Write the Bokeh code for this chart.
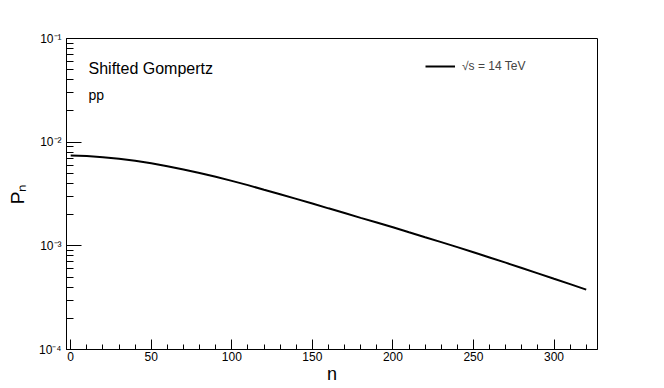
from bokeh.plotting import figure
from bokeh.models import (Range1d, FixedTicker, SingleIntervalTicker, Label,
                          Legend, LegendItem, ColumnDataSource)
from bokeh.embed import file_html
from bokeh.resources import INLINE

# ---- data ----
n_values = [0, 10, 20, 30, 40, 50, 60, 70, 80, 90, 100, 110, 120, 130, 140, 150, 160,
            170, 180, 190, 200, 210, 220, 230, 240, 250, 260, 270, 280, 290, 300, 310, 320]
pn_values = [7.44e-3, 7.34e-3, 7.17e-3, 6.93e-3, 6.62e-3, 6.26e-3, 5.87e-3, 5.46e-3,
             5.05e-3, 4.63e-3, 4.23e-3, 3.85e-3, 3.48e-3, 3.15e-3, 2.84e-3, 2.56e-3,
             2.30e-3, 2.07e-3, 1.86e-3, 1.68e-3, 1.51e-3, 1.35e-3, 1.21e-3, 1.085e-3,
             9.71e-4, 8.67e-4, 7.73e-4, 6.88e-4, 6.11e-4, 5.43e-4, 4.81e-4, 4.27e-4, 3.78e-4]
series_label = "\u221as = 14 TeV"
y_ticks = [1e-4, 1e-3, 1e-2, 1e-1]
y_tick_labels = ["10\u207b\u2074", "10\u207b\u00b3", "10\u207b\u00b2", "10\u207b\u00b9"]
x_range = (-2.6, 327)
y_range = (1e-4, 1e-1)

FONT = "Liberation Sans"

p = figure(width=664, height=388, output_backend="svg", toolbar_location=None,
           y_axis_type="log",
           x_range=Range1d(*x_range), y_range=Range1d(*y_range),
           frame_width=531, frame_height=311,
           min_border_left=66, min_border_right=67, min_border_top=38, min_border_bottom=39)
p.background_fill_color = "white"
p.border_fill_color = "white"
p.outline_line_color = "black"
p.outline_line_width = 1
p.xgrid.visible = False
p.ygrid.visible = False

src = ColumnDataSource(dict(n=n_values, pn=pn_values))
r = p.line("n", "pn", source=src, line_color="black", line_width=2)

# x axis
xa = p.xaxis[0]
xa.ticker = SingleIntervalTicker(interval=50, num_minor_ticks=5)
xa.major_tick_in = 10
xa.major_tick_out = 0
xa.minor_tick_in = 5
xa.minor_tick_out = 0
xa.axis_line_color = "black"
xa.major_tick_line_color = "black"
xa.minor_tick_line_color = "black"
xa.major_label_text_font = FONT
xa.major_label_text_font_size = "12px"
xa.major_label_text_color = "black"
xa.major_label_standoff = 2
xa.axis_label = "n"
xa.axis_label_text_font = FONT
xa.axis_label_text_font_style = "normal"
xa.axis_label_text_font_size = "18px"
xa.axis_label_text_color = "black"
xa.axis_label_standoff = 0

# y axis
minor = []
for t in y_ticks[:-1]:
    for m in range(2, 10):
        minor.append(t * m)
ya = p.yaxis[0]
ya.ticker = FixedTicker(ticks=y_ticks, minor_ticks=minor)
ya.major_label_overrides = {t: lab for t, lab in zip(y_ticks, y_tick_labels)}
ya.major_tick_in = 15
ya.major_tick_out = 0
ya.minor_tick_in = 7
ya.minor_tick_out = 0
ya.axis_line_color = "black"
ya.major_tick_line_color = "black"
ya.minor_tick_line_color = "black"
ya.major_label_text_font = FONT
ya.major_label_text_font_size = "12px"
ya.major_label_text_color = "black"
ya.major_label_standoff = 5
ya.axis_label = "P\u2099"
ya.axis_label_text_font = FONT
ya.axis_label_text_font_style = "normal"
ya.axis_label_text_font_size = "19px"
ya.axis_label_text_color = "black"
ya.axis_label_standoff = 8

# annotations (screen units relative to the frame's bottom-left)
p.add_layout(Label(x=22, y=281, x_units="screen", y_units="screen", text="Shifted Gompertz",
                   text_font=FONT, text_font_size="16px", text_color="black",
                   text_baseline="alphabetic"))
p.add_layout(Label(x=22, y=255, x_units="screen", y_units="screen", text="pp",
                   text_font=FONT, text_font_size="14px", text_color="black",
                   text_baseline="alphabetic"))

legend = Legend(items=[LegendItem(label=series_label, renderers=[r])],
                location=(359, 273), padding=0, margin=0, spacing=0,
                glyph_width=30, glyph_height=20, label_standoff=7,
                label_text_font=FONT, label_text_font_size="12px",
                border_line_color=None, background_fill_alpha=0)
p.add_layout(legend)

open("out.html", "w").write(file_html(p, INLINE))
